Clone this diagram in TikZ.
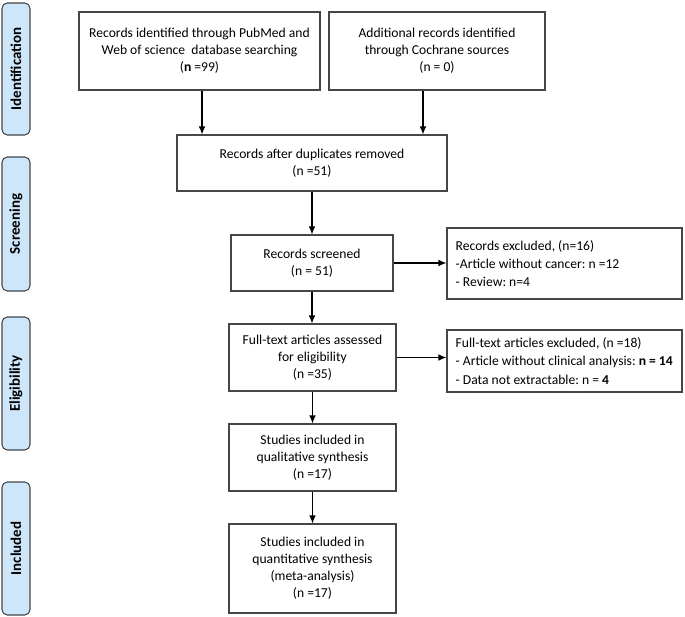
\documentclass[tikz,border=0pt]{standalone}
\usepackage{fontspec}
\setmainfont{Carlito}
\usetikzlibrary{arrows.meta}
\definecolor{sideblue}{RGB}{206,230,249}
\definecolor{edgegray}{RGB}{70,70,70}
\begin{document}
\begin{tikzpicture}[x=0.75pt,y=-0.75pt,
  box/.style={draw=edgegray,line width=0.8pt,rectangle,inner sep=0pt,align=center,
    font=\fontsize{10.2}{12.75}\selectfont\frenchspacing},
  exbox/.style={draw=edgegray,line width=0.8pt,rectangle,inner sep=0pt,
    minimum width=176.25pt},
  extext/.style={anchor=west,inner sep=0pt,align=left,
    font=\fontsize{10.2}{13.6}\selectfont\frenchspacing},
  side/.style={draw=edgegray,fill=sideblue,line width=0.8pt,rounded corners=4pt,
    minimum width=21pt,inner sep=0pt},
  sidetext/.style={rotate=90,font=\fontsize{11.2}{13}\selectfont\bfseries},
  arr/.style={line width=0.9pt,-{Latex[length=6pt,width=5pt]}}]
\useasboundingbox (0,0) rectangle (685,617);
% side labels
\node[side,minimum height=99pt] (s1) at (16,69) {};
\node[sidetext] (t1) at (s1.center) {Identification};
\node[side,minimum height=100.5pt] (s2) at (16,224) {};
\node[sidetext] (t2) at (s2.center) {Screening};
\node[side,minimum height=99.75pt] (s3) at (16,383.5) {};
\node[sidetext] (t3) at (s3.center) {Eligibility};
\node[side,minimum height=99.75pt] (s4) at (16,548.5) {};
\node[sidetext] (t4) at (s4.center) {Included};
% main boxes
\node[box,minimum width=180.75pt,minimum height=58.5pt] (id1) at (199.5,51)
  {Records identified through PubMed and\\Web of science\ \ database searching\\(\textbf{n} =99)};
\node[box,minimum width=162pt,minimum height=58.5pt] (id2) at (437,51)
  {Additional records identified\\through Cochrane sources\\(n = 0)};
\node[box,minimum width=202.5pt,minimum height=42pt] (dup) at (312,163)
  {Records after duplicates removed\\(n =51)};
\node[box,minimum width=121.5pt,minimum height=42pt] (scr) at (312,263)
  {Records screened\\(n = 51)};
\node[exbox,minimum height=53.25pt] (ex1) at (564.5,263.5) {};
\node[extext] (ex1t) at ([xshift=6.75pt]ex1.west)
  {Records excluded, (n=16)\\-Article without cancer: n =12\\- Review: n=4};
\node[box,minimum width=125.25pt,minimum height=50.25pt] (full) at (312.5,357.5)
  {Full-text articles assessed\\for eligibility\\(n =35)};
\node[exbox,minimum height=46.5pt] (ex2) at (564.5,361) {};
\node[extext] (ex2t) at ([xshift=6.75pt]ex2.west)
  {Full-text articles excluded, (n =18)\\- Article without clinical analysis: \textbf{n = 14}\\- Data not extractable: n = \textbf{4}};
\node[box,minimum width=125.25pt,minimum height=50.25pt] (qual) at (312.5,457.5)
  {Studies included in\\qualitative synthesis\\(n =17)};
\node[box,minimum width=125.25pt,minimum height=66.75pt] (quant) at (312.5,568.5)
  {Studies included in\\quantitative synthesis\\(meta-analysis)\\(n =17)};
% connectors
\coordinate (a1) at ([xshift=1.9pt]id1.south);
\coordinate (a2) at ([xshift=-10.5pt]id2.south);
\draw[arr] (a1) -- (a1 |- dup.north);
\draw[arr] (a2) -- (a2 |- dup.north);
\draw[arr] (dup.south) -- (dup.south |- scr.north);
\draw[arr] (scr.south) -- (scr.south |- full.north);
\draw[arr] (full.south) -- (full.south |- qual.north);
\draw[arr] (qual.south) -- (qual.south |- quant.north);
\draw[arr] (scr.east) -- (scr.east -| ex1.west);
\draw[arr] (full.east) -- (full.east -| ex2.west);
\end{tikzpicture}
\end{document}
